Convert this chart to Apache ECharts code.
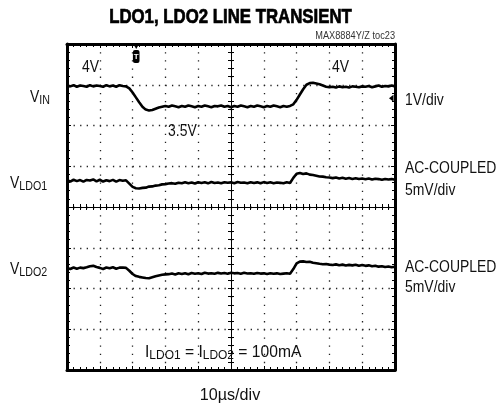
<!DOCTYPE html>
<html><head><meta charset="utf-8">
<script src="https://cdn.jsdelivr.net/npm/echarts@6/dist/echarts.min.js"></script>
<style>html,body{margin:0;padding:0;background:#fff}#c{width:497px;height:406px}</style>
</head><body><div id="c"></div>
<script>
// ---- data ----
const TIME_US = [0,1,2,3,4,5,6,7,8,9,10,11,12,13,14,15,16,17,18,19,20,21,22,23,24,25,26,27,28,29,30,31,32,33,34,35,36,37,38,39,40,41,42,43,44,45,46,47,48,49,50,51,52,53,54,55,56,57,58,59,60,61,62,63,64,65,66,67,68,69,70,71,72,73,74,75,76,77,78,79,80,81,82,83,84,85,86,87,88,89,90,91,92,93,94,95,96,97,98,99,100];
const VIN_V = [4.01,3.99,4.02,3.98,4.01,4.00,3.98,4.02,3.99,4.01,4.00,3.98,4.02,3.99,4.01,3.98,4.02,4.00,3.99,
  3.94,3.84,3.72,3.60,3.49,3.42,3.40,3.41,3.44,3.47,3.49,3.51,
  3.49,3.52,3.50,3.48,3.51,3.49,3.52,3.50,3.48,3.51,3.49,3.52,3.50,3.48,3.51,3.50,3.52,3.49,3.51,3.48,
  3.51,3.49,3.52,3.50,3.48,3.51,3.49,3.52,3.50,3.48,3.51,3.49,3.52,3.50,3.48,3.51,3.49,3.51,
  3.55,3.66,3.79,3.92,4.03,4.07,4.08,4.06,4.04,4.01,3.98,3.97,
  3.98,3.96,3.99,3.97,3.98,3.96,3.99,3.98,3.97,3.99,3.98,4.00,3.97,3.99,4.01,3.98,4.00,3.99,4.01,3.99];
const VLDO1_MV = [0.05,-0.1,0.12,-0.05,0.08,-0.12,0.1,0.02,0.15,-0.08,0.12,-0.1,0.06,-0.05,0.1,-0.12,0.08,0.0,0.05,
  -0.35,-0.75,-0.92,-0.95,-0.88,-0.85,-0.72,-0.7,-0.6,-0.55,-0.45,-0.42,
  -0.35,-0.3,-0.38,-0.25,-0.32,-0.2,-0.3,-0.22,-0.35,-0.18,-0.28,-0.2,-0.32,-0.15,-0.27,-0.22,-0.3,-0.18,-0.26,-0.2,
  -0.3,-0.16,-0.25,-0.22,-0.3,-0.18,-0.27,-0.2,-0.32,-0.17,-0.28,-0.2,-0.3,-0.22,-0.26,-0.32,-0.2,-0.28,
  0.35,0.85,0.95,0.82,0.9,0.75,0.7,0.62,0.52,0.5,0.42,0.4,
  0.32,0.4,0.28,0.36,0.25,0.33,0.22,0.3,0.2,0.28,0.18,0.26,0.15,0.25,0.2,0.12,0.22,0.15,0.2,0.12];
const VLDO2_MV = [0.05,-0.08,0.1,-0.05,0.08,0.02,0.12,0.25,0.3,0.15,0.05,-0.08,0.1,0.0,0.12,-0.05,0.08,0.1,0.05,
  -0.3,-0.7,-0.95,-1.05,-1.12,-1.2,-1.22,-1.1,-0.98,-0.88,-0.8,-0.75,
  -0.72,-0.65,-0.75,-0.62,-0.7,-0.6,-0.72,-0.58,-0.66,-0.6,-0.7,-0.55,-0.65,-0.6,-0.68,-0.56,-0.64,-0.58,-0.66,-0.55,
  -0.62,-0.58,-0.66,-0.55,-0.63,-0.6,-0.68,-0.57,-0.65,-0.62,-0.7,-0.6,-0.68,-0.62,-0.7,-0.65,-0.6,-0.66,
  -0.1,0.6,0.82,0.85,0.78,0.8,0.68,0.62,0.55,0.5,0.52,0.45,
  0.4,0.48,0.38,0.45,0.35,0.42,0.36,0.44,0.32,0.4,0.3,0.36,0.25,0.32,0.2,0.26,0.15,0.22,0.12,0.18];
const TRIGGER_US = 21.1;
const LEVEL_MARK_DIV = 2.67;

// ---- scope screen scaling (divisions) ----
const VIN_V_PER_DIV = 1, VIN_OFFSET_DIV = -1.03;
const LDO_MV_PER_DIV = 5, LDO1_CENTER_DIV = 0.645, LDO2_CENTER_DIV = -1.504;

const FONT = "'Liberation Sans',Arial,sans-serif";
const NARROW = 0.82;
const G = {left: 67, top: 44, width: 328, height: 326};

const toSeries = (vals, f) => TIME_US.map((t, i) => [t, f(vals[i])]);
const vinData = toSeries(VIN_V, v => v / VIN_V_PER_DIV + VIN_OFFSET_DIV);
const l1Data = toSeries(VLDO1_MV, v => LDO1_CENTER_DIV + v / LDO_MV_PER_DIV);
const l2Data = toSeries(VLDO2_MV, v => LDO2_CENTER_DIV + v / LDO_MV_PER_DIV);

const frameLine = {show: true, onZero: false, lineStyle: {color: '#000', width: 3}};
const innerTick = {show: true, inside: true, length: 4, lineStyle: {color: '#000', width: 1}};
const minor = {show: true, splitNumber: 5, length: 3, lineStyle: {color: '#000', width: 1}};
const noLabel = {show: false};

function frameX(pos, split) {
  return {gridIndex: 0, type: 'value', min: 0, max: 100, interval: 10, position: pos,
    axisLine: frameLine, axisTick: innerTick, minorTick: minor, axisLabel: noLabel,
    splitLine: {show: split, lineStyle: {color: '#222', width: 1.3, type: [1.3, 6.85]}}};
}
function frameY(pos, split) {
  return {gridIndex: 0, type: 'value', min: -4, max: 4, interval: 1, position: pos,
    axisLine: frameLine, axisTick: innerTick, minorTick: minor, axisLabel: noLabel,
    splitLine: {show: split, lineStyle: {color: '#222', width: 1.3, type: [1.3, 5.26]}}};
}
function centerX(gi, inside) {
  return {gridIndex: gi, type: 'value', min: -5, max: 5, interval: 1,
    axisLine: {show: true, onZero: true, lineStyle: {color: '#000', width: 1}},
    axisTick: {show: true, inside: inside, length: 3, lineStyle: {color: '#000', width: 1}},
    minorTick: minor, axisLabel: noLabel, splitLine: {show: false}};
}
function centerY(gi, inside) {
  return {gridIndex: gi, type: 'value', min: -4, max: 4, interval: 1,
    axisLine: {show: true, onZero: true, lineStyle: {color: '#000', width: 1}},
    axisTick: {show: true, inside: inside, length: 3, lineStyle: {color: '#000', width: 1}},
    minorTick: minor, axisLabel: noLabel, splitLine: {show: false}};
}

function txt(id, text, x, y, size, align, extra, sx) {
  return {type: 'text', id: id, x: x, y: y, z: 10, scaleX: sx || NARROW, style: Object.assign({
    text: text, fontSize: size, fontFamily: FONT, fill: '#111',
    align: align, textAlign: align, verticalAlign: 'middle', textVerticalAlign: 'middle'}, extra || {})};
}
const RICH = {v: {fontSize: 17, fontFamily: FONT, fill: '#111', lineHeight: 20},
              s: {fontSize: 13, fontFamily: FONT, fill: '#111', lineHeight: 13, verticalAlign: 'bottom'}};
function sub(id, main, s, x, y, align) {
  return txt(id, '{v|' + main + '}{s|' + s + '}', x, y, 17, align, {rich: RICH});
}

const chart = echarts.init(document.getElementById('c'), null, {renderer: 'canvas'});
const lineStyle = {color: '#000', width: 2.6};
chart.setOption({
  animation: false,
  backgroundColor: '#fff',
  grid: [Object.assign({}, G), Object.assign({}, G), Object.assign({}, G)],
  xAxis: [frameX('bottom', true), frameX('top', false), centerX(1, true), centerX(2, false)],
  yAxis: [frameY('left', true), frameY('right', false), centerY(1, true), centerY(2, false)],
  series: [
    {type: 'line', name: 'VIN', xAxisIndex: 0, yAxisIndex: 0, data: vinData, showSymbol: false, lineStyle: lineStyle, z: 5},
    {type: 'line', name: 'VLDO1', xAxisIndex: 0, yAxisIndex: 0, data: l1Data, showSymbol: false, lineStyle: lineStyle, z: 5},
    {type: 'line', name: 'VLDO2', xAxisIndex: 0, yAxisIndex: 0, data: l2Data, showSymbol: false, lineStyle: lineStyle, z: 5}
  ],
  graphic: [
    txt('title', 'LDO1, LDO2 LINE TRANSIENT', 230.5, 17, 20, 'center', {fontWeight: 'bold', fill: '#000', stroke: '#000', lineWidth: 0.7}, 0.84),
    txt('toc', 'MAX8884Y/Z toc23', 395, 36.5, 10, 'right', {fill: '#333'}, 0.92),
    txt('v4a', '4V', 82, 67.5, 17, 'left'),
    txt('v4b', '4V', 332, 67.5, 17, 'left'),
    txt('v35', '3.5V', 168, 131, 17, 'left'),
    txt('vdiv', '1V/div', 405, 100, 17, 'left'),
    txt('ac1', 'AC-COUPLED', 405, 168, 17, 'left'),
    txt('mv1', '5mV/div', 405, 190, 17, 'left'),
    txt('ac2', 'AC-COUPLED', 405, 267, 17, 'left'),
    txt('mv2', '5mV/div', 405, 287, 17, 'left'),
    sub('lvin', 'V', 'IN', 30, 97, 'left'),
    sub('lld1', 'V', 'LDO1', 10, 183, 'left'),
    sub('lld2', 'V', 'LDO2', 10, 269, 'left'),
    txt('iload', '{v|I}{s|LDO1}{v| = I}{s|LDO2}{v| = 100mA}', 145, 352, 17, 'left', {rich: RICH}, 0.92),
    txt('tdiv', '10\u00b5s/div', 230, 395, 17, 'center', null, 0.95)
  ]
});

// trigger marker and level arrow, placed through the axes
const tp = chart.convertToPixel({xAxisIndex: 0, yAxisIndex: 0}, [TRIGGER_US, 4]);
const ap = chart.convertToPixel({xAxisIndex: 0, yAxisIndex: 0}, [100, LEVEL_MARK_DIV]);
chart.setOption({graphic: [
  {type: 'polygon', id: 'trigTri', z: 11, shape: {points: [[tp[0] - 3.5, tp[1] - 1], [tp[0] + 3.5, tp[1] - 1], [tp[0], tp[1] + 5]]}, style: {fill: '#000'}},
  {type: 'rect', id: 'trigBox', z: 11, shape: {x: tp[0] - 3.3, y: tp[1] + 6, width: 6.6, height: 13, r: 2}, style: {fill: '#000'}},
  {type: 'text', id: 'trigT', z: 12, x: tp[0], y: tp[1] + 12.5, style: {text: 'T', fontSize: 8, fontWeight: 'bold', fontFamily: FONT, fill: '#fff', align: 'center', textAlign: 'center', verticalAlign: 'middle', textVerticalAlign: 'middle'}},
  {type: 'polygon', id: 'lvlArrow', z: 11, shape: {points: [[ap[0] - 6, ap[1]], [ap[0] - 1.5, ap[1] - 3.5], [ap[0] - 1.5, ap[1] + 3.5]]}, style: {fill: '#000'}}
]});
</script>
</body></html>
